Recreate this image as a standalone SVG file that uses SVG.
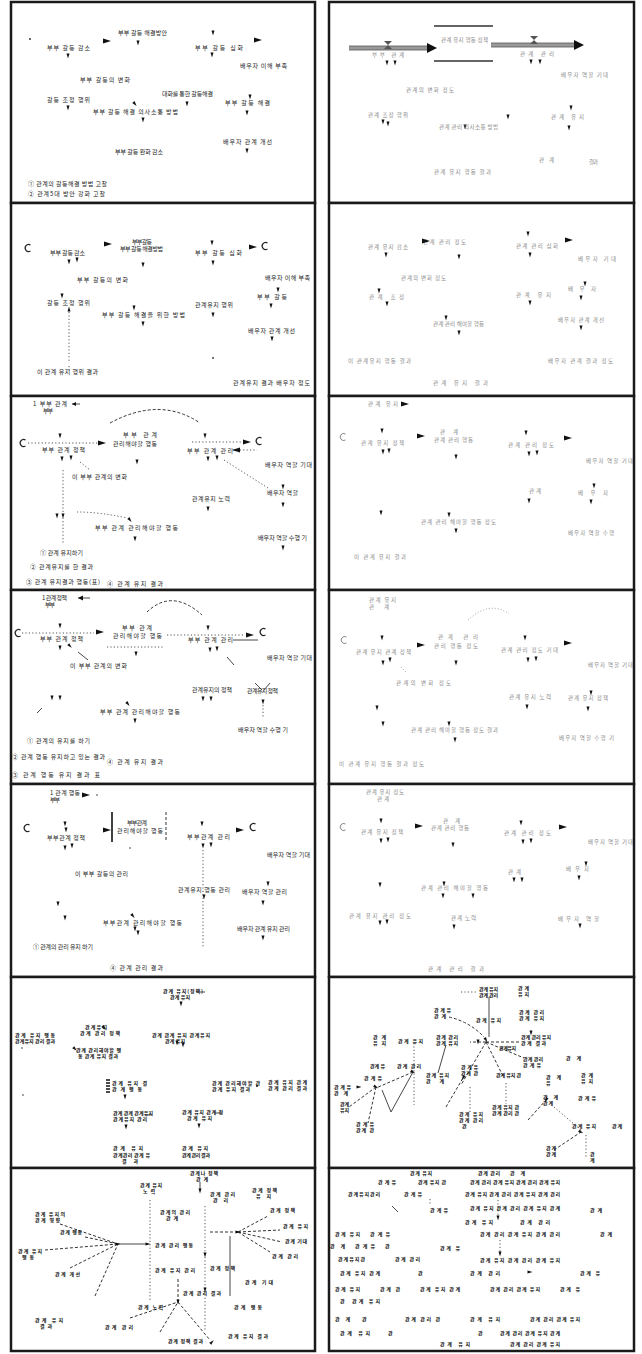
<svg xmlns="http://www.w3.org/2000/svg" width="642" height="1354" viewBox="0 0 642 1354">
<defs>
<style>
.t{font-family:"Noto Sans CJK KR","Noto Sans",sans-serif;font-size:6px;fill:#222}
.u{font-family:"Noto Sans CJK KR","Noto Sans",sans-serif;font-size:5.5px;fill:#8a8a8a}
.k{font-family:"Noto Sans CJK KR","Noto Sans",sans-serif;font-size:5px;fill:#111;font-weight:bold}
.frame{fill:#fff;stroke:#1a1a1a;stroke-width:2.5}
.dot{fill:none;stroke:#444;stroke-width:0.9;stroke-dasharray:1.2 2.2}
.dash{fill:none;stroke:#333;stroke-width:1;stroke-dasharray:3 2}
.ln{fill:none;stroke:#333;stroke-width:0.9}
.fl{fill:none;stroke:#888;stroke-width:0.8;stroke-dasharray:1 2}
.pipe{fill:none;stroke:#999;stroke-width:4}
.pipe2{fill:none;stroke:#555;stroke-width:0.8}
.stk{fill:none;stroke:#333;stroke-width:1.4}
</style>
<path id="ad" d="M-1.5,-2.5H1.5L0,2.5Z" fill="#111"/>
<path id="ar" d="M-4,-2.5L4,0L-4,2.5Z" fill="#111"/>
<path id="cl" d="M2.5,-3A3.5,3.5 0 1 0 2.5,3" fill="none" stroke="#222" stroke-width="1.2"/>
<path id="cg" d="M2.5,-3A3.5,3.5 0 1 0 2.5,3" fill="none" stroke="#888" stroke-width="1"/>
</defs>
<rect width="642" height="1354" fill="#fff"/>

<!-- panel frames -->
<g id="frames">
<rect class="frame" x="11" y="2" width="304" height="201"/>
<rect class="frame" x="11" y="203" width="304" height="193"/>
<rect class="frame" x="11" y="396" width="304" height="194"/>
<rect class="frame" x="11" y="590" width="304" height="194"/>
<rect class="frame" x="11" y="784" width="304" height="193"/>
<rect class="frame" x="11" y="977" width="304" height="191"/>
<rect class="frame" x="11" y="1168" width="304" height="183"/>
<rect class="frame" x="329" y="2" width="305" height="201"/>
<rect class="frame" x="329" y="203" width="305" height="193"/>
<rect class="frame" x="329" y="396" width="305" height="194"/>
<rect class="frame" x="329" y="590" width="305" height="194"/>
<rect class="frame" x="329" y="784" width="305" height="193"/>
<rect class="frame" x="329" y="977" width="305" height="191"/>
<rect class="frame" x="329" y="1168" width="305" height="183"/>
</g>

<!-- row 1 left -->
<g id="p1l">
<circle cx="30" cy="39" r="0.9" fill="#222"/>
<text class="t" x="47" y="50" textLength="43">부부 갈등 감소</text>
<text class="t" x="118" y="35" textLength="49">부부 갈등 해결방안</text>
<text class="t" x="195" y="50" textLength="48">부부 갈등 심화</text>
<text class="t" x="240" y="68" textLength="47">배우자 이해 부족</text>
<text class="t" x="80" y="82" textLength="50">부부 갈등의 변화</text>
<text class="t" x="47" y="102" textLength="43">갈등 조정 행위</text>
<text class="t" x="162" y="96" textLength="51">대화를 통한 갈등해결</text>
<text class="t" x="225" y="105" textLength="45">부부 갈등 해결</text>
<text class="t" x="93" y="114" textLength="85">부부 갈등 해결 의사소통 방법</text>
<text class="t" x="223" y="144" textLength="49">배우자 관계 개선</text>
<text class="t" x="115" y="154" textLength="48">부부 갈등 완화 감소</text>
<text class="t" x="28" y="186" textLength="79">① 관계의 갈등해결 방법 고찰</text>
<text class="t" x="28" y="196" textLength="77">② 관계5대 방안 강화 고찰</text>
<g id="p1l-links">
<use href="#ad" x="68" y="56"/><use href="#ad" x="138" y="43"/><use href="#ad" x="213" y="33"/>
<use href="#ar" x="258" y="40"/><use href="#ad" x="212" y="55"/><use href="#ad" x="68" y="108"/>
<use href="#ad" x="187" y="104"/><use href="#ad" x="250" y="97"/><use href="#ad" x="247" y="113"/>
<use href="#ad" transform="translate(135,104) rotate(-40)"/><use href="#ad" x="143" y="120"/><use href="#ad" x="247" y="151"/>
<use href="#ar" x="107" y="41"/>
</g>
</g>

<!-- row 1 right -->
<g id="p1r">
<g id="p1r-links">
<path class="pipe" d="M349,48H428"/><path class="pipe2" d="M349,46H428M349,50H428"/>
<path d="M427,43L437,48L427,53Z" fill="#111"/>
<path class="stk" d="M434,26H493M434,61H493"/>
<path class="pipe" d="M491,45H575"/><path class="pipe2" d="M491,43H575M491,47H575"/>
<path d="M574,40L584,45L574,50Z" fill="#111"/>
<path d="M384,41L392,41L384,49L392,49Z" fill="#555"/>
<path d="M530,36L538,36L530,44L538,44Z" fill="#555"/>
<use href="#ad" x="387" y="63"/><use href="#ad" x="395" y="63"/><use href="#ad" x="531" y="62"/><use href="#ad" x="540" y="62"/>
<use href="#ad" x="383" y="122"/><use href="#ad" x="388" y="124"/><use href="#ad" x="508" y="117"/><use href="#ad" x="571" y="108"/><use href="#ad" x="569" y="128"/>
<use href="#ad" x="465" y="127"/>
</g>
<text class="u" x="441" y="42" textLength="47">관계 유지 행동 정책</text>
<text class="u" x="372" y="57" textLength="32">부부 관계</text>
<text class="u" x="520" y="56" textLength="34">관계 관리</text>
<text class="u" x="561" y="77" textLength="47">배우자 역할 기대</text>
<text class="u" x="406" y="92" textLength="48">관계의 변화 정도</text>
<text class="u" x="368" y="117" textLength="40">관계 조정 행위</text>
<text class="u" x="439" y="129" textLength="59">관계 관리 의사소통 방법</text>
<text class="u" x="551" y="119" textLength="33">관계 유지</text>
<text class="u" x="539" y="162" textLength="15">관계</text>
<text class="u" x="589" y="164" textLength="9">결과</text>
<text class="u" x="434" y="174" textLength="57">관계 유지 행동 결과</text>
</g>

<!-- row 2 left -->
<g id="p2l">
<use href="#cl" x="28" y="248"/>
<text class="t" x="50" y="255" textLength="35">부부 갈등 감소</text>
<text class="t" x="132" y="244"><tspan textLength="20">부부 갈등</tspan><tspan x="120" dy="7" textLength="43">부부 갈등 해결방법</tspan></text>
<text class="t" x="195" y="255" textLength="47">부부 갈등 심화</text>
<text class="t" x="77" y="282" textLength="51">부부 갈등의 변화</text>
<text class="t" x="265" y="280" textLength="45">배우자 이해 부족</text>
<text class="t" x="257" y="299" textLength="30">부부 갈등</text>
<text class="t" x="47" y="305" textLength="43">갈등 조정 행위</text>
<text class="t" x="102" y="317" textLength="83">부부 갈등 해결을 위한 방법</text>
<text class="t" x="195" y="307" textLength="38">관계유지 행위</text>
<text class="t" x="248" y="333" textLength="47">배우자 관계 개선</text>
<text class="t" x="37" y="374" textLength="61">이 관계 유지 행위 결과</text>
<text class="t" x="233" y="385" textLength="77">관계유지 결과 배우자 정도</text>
<g id="p2l-links">
<use href="#ad" x="69" y="262"/><use href="#ad" x="77" y="260"/><use href="#ar" x="108" y="244"/><use href="#ad" x="143" y="265"/>
<use href="#ad" x="212" y="243"/><use href="#ad" x="213" y="263"/><use href="#ar" x="253" y="247"/>
<use href="#cl" x="265" y="246"/>
<use href="#ad" x="278" y="290"/><use href="#ad" x="271" y="306"/><use href="#ad" x="62" y="296"/>
<use href="#ad" transform="translate(69,309) rotate(180)"/>
<path class="dot" d="M69,312V362"/><path class="dot" d="M69,366V372"/>
<use href="#ad" x="134" y="308"/><use href="#ad" x="143" y="324"/><use href="#ad" x="213" y="315"/><use href="#ad" x="272" y="339"/>
<circle cx="213" cy="358" r="0.9" fill="#333"/>
</g>
</g>

<!-- row 2 right -->
<g id="p2r">
<text class="u" x="368" y="249" textLength="40">관계 유지 감소</text>
<text class="u" x="423" y="244" textLength="43">관계 관리 정도</text>
<text class="u" x="516" y="248" textLength="42">관계 관리 심화</text>
<text class="u" x="578" y="261" textLength="38">배우자 기대</text>
<text class="u" x="401" y="280" textLength="45">관계의 변화 정도</text>
<text class="u" x="369" y="299" textLength="35">관계 조정</text>
<text class="u" x="516" y="297" textLength="35">관계 유지</text>
<text class="u" x="568" y="291" textLength="28">배우자</text>
<text class="u" x="433" y="326" textLength="51">관계 관리 해야할 행동</text>
<text class="u" x="558" y="322" textLength="46">배우자 관계 개선</text>
<text class="u" x="348" y="363" textLength="63">이 관계유지 행동 결과</text>
<text class="u" x="548" y="363" textLength="65">배우자 관계 결과 정도</text>
<text class="u" x="433" y="385" textLength="55">관계 유지 결과</text>
<g id="p2r-links">
<use href="#ad" x="386" y="255"/><use href="#ar" x="426" y="241"/><use href="#ad" x="459" y="257"/><use href="#ad" x="528" y="234"/>
<use href="#ad" x="530" y="255"/><use href="#ar" x="569" y="240"/><use href="#ad" x="379" y="291"/><use href="#ad" x="387" y="304"/>
<use href="#ad" x="530" y="303"/><use href="#ad" x="585" y="284"/><use href="#ad" x="581" y="298"/><use href="#ad" x="446" y="318"/>
<use href="#ad" x="459" y="333"/><use href="#ad" x="581" y="328"/>
</g>
</g>

<!-- row 3 left -->
<g id="p3l">
<text class="t" x="33" y="406"><tspan textLength="34">1 부부 관계</tspan><tspan x="43" dy="6.5" textLength="10">부부</tspan></text>
<text class="t" x="42" y="452" textLength="43">부부 관계 정책</text>
<text class="t" x="123" y="437"><tspan textLength="34">부부 관계</tspan><tspan x="113" dy="9" textLength="44">관리해야할 행동</tspan></text>
<text class="t" x="187" y="453" textLength="46">부부 관계 관리</text>
<text class="t" x="265" y="467" textLength="47">배우자 역할 기대</text>
<text class="t" x="267" y="495" textLength="31">배우자 역할</text>
<text class="t" x="72" y="479" textLength="55">이 부부 관계의 변화</text>
<text class="t" x="192" y="501" textLength="38">관계유지 노력</text>
<text class="t" x="95" y="530" textLength="83">부부 관계 관리해야할 행동</text>
<text class="t" x="258" y="540" textLength="49">배우자 역할 수행 기</text>
<text class="t" x="40" y="555" textLength="43">① 관계 유지하기</text>
<text class="t" x="30" y="569" textLength="63">② 관계유지를 한 결과</text>
<text class="t" x="26" y="584" textLength="74">③ 관계 유지결과 행동(표)</text>
<text class="t" x="107" y="586" textLength="56">④ 관계 유지 결과</text>
<g id="p3l-links">
<path class="ln" d="M72,404H80"/><path d="M72,404L76,402V406Z" fill="#111"/>
<path class="dash" d="M110,423Q160,396 200,423"/>
<use href="#cl" x="23" y="443"/>
<path class="dot" d="M28,443H98"/><use href="#ar" x="102" y="443"/>
<use href="#ad" x="60" y="436"/><use href="#ad" x="62" y="459"/><use href="#ad" x="71" y="458"/><use href="#ad" x="137" y="462"/>
<path class="dot" d="M192,442H243"/><use href="#ar" x="247" y="442"/><use href="#cl" x="259" y="441"/>
<use href="#ad" x="205" y="436"/><path class="dot" d="M233,450H257"/><use href="#ar" transform="translate(236,450) rotate(180)"/>
<use href="#ad" x="208" y="459"/><use href="#ad" x="217" y="458"/>
<path class="dot" d="M224,460L268,488"/><use href="#ad" x="283" y="487"/><use href="#ad" x="283" y="505"/>
<path class="dot" d="M63,470V544"/>
<path class="dot" d="M80,462L90,470"/>
<use href="#ad" x="208" y="509"/><use href="#ad" x="57" y="516"/><use href="#ad" x="63" y="516"/>
<path class="dot" d="M77,512Q100,512 127,518"/>
<use href="#ad" transform="translate(130,520) rotate(-40)"/><use href="#ad" x="135" y="539"/><use href="#ad" x="283" y="548"/>
</g>
</g>

<!-- row 3 right -->
<g id="p3r">
<text class="u" x="368" y="406" textLength="30">관계 유지</text>
<use href="#cg" x="343" y="437"/>
<text class="u" x="361" y="445" textLength="43">관계 유지 정책</text>
<text class="u" x="440" y="434"><tspan textLength="18">관계</tspan><tspan x="434" dy="8" textLength="39">관계 관리 행동</tspan></text>
<text class="u" x="508" y="447" textLength="46">관계 관리 정도</text>
<text class="u" x="586" y="463" textLength="47">배우자 역할 기대</text>
<text class="u" x="529" y="493" textLength="12">관계</text>
<text class="u" x="578" y="495" textLength="30">배우자</text>
<text class="u" x="421" y="524" textLength="75">관계 관리 해야할 행동 정도</text>
<text class="u" x="568" y="535" textLength="46">배우자 역할 수행</text>
<text class="u" x="354" y="559" textLength="52">이 관계 유지 결과</text>
<g id="p3r-links">
<use href="#ar" x="405" y="404"/><use href="#ad" x="382" y="431"/><use href="#ad" x="383" y="452"/><use href="#ad" x="389" y="451"/>
<use href="#ar" x="421" y="436"/><use href="#ad" x="456" y="457"/><use href="#ad" x="526" y="433"/><use href="#ad" x="529" y="454"/>
<use href="#ad" x="537" y="453"/><use href="#ar" x="568" y="438"/><use href="#ad" x="529" y="501"/><use href="#ad" x="594" y="486"/>
<use href="#ad" x="591" y="502"/><use href="#ad" x="381" y="513"/><use href="#ad" x="449" y="515"/><use href="#ad" x="456" y="531"/>
</g>
</g>

<!-- row 4 left -->
<g id="p4l">
<text class="t" x="42" y="600"><tspan textLength="25">1 관계 정책</tspan><tspan x="45" dy="7" textLength="10">부부</tspan></text>
<text class="t" x="40" y="641" textLength="43">부부 관계 정책</text>
<text class="t" x="122" y="630"><tspan textLength="30">부부 관계</tspan><tspan x="113" dy="8" textLength="49">관리해야할 행동</tspan></text>
<text class="t" x="188" y="642" textLength="45">부부 관계 관리</text>
<text class="t" x="267" y="660" textLength="45">배우자 역할 기대</text>
<text class="t" x="70" y="668" textLength="57">이 부부 관계의 변화</text>
<text class="t" x="192" y="692" textLength="40">관계유지의 정책</text>
<text class="t" x="247" y="693" textLength="31">관계유지 정책</text>
<text class="t" x="100" y="714" textLength="80">부부 관계 관리해야할 행동</text>
<text class="t" x="238" y="732" textLength="50">배우자 역할 수행 기</text>
<text class="t" x="27" y="743" textLength="63">① 관계의 유지를 하기</text>
<text class="t" x="12" y="759" textLength="93">② 관계 행동 유지하고 있는 결과</text>
<text class="t" x="107" y="764" textLength="56">④ 관계 유지 결과</text>
<text class="t" x="12" y="777" textLength="88">③ 관계 행동 유지 결과 표</text>
<g id="p4l-links">
<path class="ln" d="M78,598H90"/><path d="M78,598L83,595.5V600.5Z" fill="#111"/>
<path class="dash" d="M147,612Q172,588 202,615"/>
<use href="#cl" x="18" y="633"/><path class="dot" d="M22,633H94"/><use href="#ar" x="100" y="632"/>
<use href="#ad" x="60" y="626"/><use href="#ad" x="60" y="648"/><use href="#ad" transform="translate(70,646) rotate(-45)"/>
<path class="dot" d="M107,647H163"/><use href="#ad" x="136" y="654"/>
<path class="dot" d="M167,635H243"/>
<use href="#ad" x="208" y="628"/><path class="ln" d="M233,640H258"/><use href="#ar" x="250" y="635"/><use href="#cl" x="263" y="632"/>
<use href="#ad" x="210" y="650"/><use href="#ad" x="217" y="649"/>
<path class="ln" d="M227,657L234,665"/><path class="ln" d="M78,652L88,660"/>
<use href="#ad" x="203" y="699"/><use href="#ad" x="211" y="699"/>
<path class="ln" d="M255,683L262,690M270,683L264,690"/><use href="#ad" x="263" y="702"/><path class="dot" d="M263,705V718"/>
<use href="#ad" x="52" y="698"/><use href="#ad" x="60" y="698"/><path class="ln" d="M37,713L42,708"/>
<use href="#ad" transform="translate(128,704) rotate(-40)"/><use href="#ad" x="135" y="721"/>
</g>
</g>

<!-- row 4 right -->
<g id="p4r">
<text class="u" x="369" y="602"><tspan textLength="27">관계 유지</tspan><tspan x="369" dy="7" textLength="20">관계</tspan></text>
<use href="#cg" x="344" y="640"/>
<text class="u" x="356" y="654" textLength="55">관계 유지 관계 정책</text>
<text class="u" x="438" y="639"><tspan textLength="40">관계 관리</tspan><tspan x="434" dy="9" textLength="44">관리 행동 정도</tspan></text>
<text class="u" x="501" y="652" textLength="57">관계 관리 정도 기대</text>
<text class="u" x="588" y="667" textLength="45">배우자 역할 기대</text>
<text class="u" x="396" y="685" textLength="55">관계의 변화 정도</text>
<text class="u" x="509" y="699" textLength="42">관계 유지 노력</text>
<text class="u" x="568" y="700" textLength="40">관계 유지 정책</text>
<text class="u" x="411" y="732" textLength="87">관계 관리 해야할 행동 정도 결과</text>
<text class="u" x="559" y="740" textLength="55">배우자 역할 수행 기</text>
<text class="u" x="339" y="766" textLength="85">이 관계 유지 행동 결과 정도</text>
<g id="p4r-links">
<path class="fl" d="M468,620Q490,600 509,614"/>
<use href="#ad" x="382" y="638"/><use href="#ad" x="383" y="663"/><use href="#ad" x="390" y="660"/>
<path class="fl" d="M401,667L406,672"/>
<use href="#ar" x="421" y="645"/><use href="#ad" x="456" y="663"/><use href="#ad" x="525" y="638"/>
<use href="#ad" x="528" y="660"/><use href="#ad" x="536" y="659"/><use href="#ar" x="568" y="643"/>
<use href="#ad" x="527" y="707"/><use href="#ad" x="591" y="693"/><use href="#ad" x="588" y="709"/>
<use href="#ad" x="377" y="708"/><use href="#ad" x="383" y="724"/><use href="#ad" x="449" y="724"/><use href="#ad" x="455" y="740"/>
</g>
</g>

<!-- row 5 left -->
<g id="p5l">
<text class="t" x="50" y="795"><tspan textLength="30">1 관계 행동</tspan><tspan x="50" dy="6.5" textLength="10">부부</tspan></text>
<use href="#cl" x="27" y="828"/>
<text class="t" x="47" y="840" textLength="38">부부관계 정책</text>
<text class="t" x="127" y="825"><tspan textLength="20">부부관계</tspan><tspan x="117" dy="8" textLength="46">관리해야할 행동</tspan></text>
<text class="t" x="187" y="839" textLength="43">부부관계 관리</text>
<text class="t" x="267" y="857" textLength="43">배우자 역할 기대</text>
<text class="t" x="75" y="876" textLength="53">이 부부 갈등의 관리</text>
<text class="t" x="178" y="892" textLength="52">관계유지 행동 관리</text>
<text class="t" x="242" y="894" textLength="45">배우자 역할 관리</text>
<text class="t" x="103" y="925" textLength="79">부부관계 관리해야할 행동</text>
<text class="t" x="237" y="931" textLength="53">배우자 관계 유지 관리</text>
<text class="t" x="33" y="949" textLength="60">① 관계의 관리 유지 하기</text>
<text class="t" x="110" y="970" textLength="53">④ 관계 관리 결과</text>
<g id="p5l-links">
<use href="#ar" x="86" y="795"/><circle cx="97" cy="795" r="0.8" fill="#333"/>
<use href="#ad" x="65" y="824"/><use href="#ad" x="66" y="830"/><use href="#ad" x="65" y="848"/><use href="#ad" x="72" y="846"/>
<use href="#ar" x="107" y="830"/>
<path d="M112,812V842" stroke="#111" stroke-width="1.6"/>
<path class="dash" d="M166,812V842"/><circle cx="130" cy="848" r="0.8" fill="#333"/>
<use href="#ad" x="202" y="824"/><use href="#ad" x="203" y="846"/><use href="#ad" x="211" y="845"/>
<path class="dot" d="M203,850V947"/>
<use href="#ar" x="240" y="830"/><use href="#cl" x="253" y="827"/>
<use href="#ad" x="204" y="897"/><use href="#ad" x="268" y="884"/><use href="#ad" x="263" y="903"/>
<use href="#ad" x="58" y="904"/><use href="#ad" x="65" y="918"/>
<use href="#ad" transform="translate(133,916) rotate(-40)"/><use href="#ad" x="138" y="933"/><use href="#ad" x="135" y="929"/>
<use href="#ad" x="263" y="938"/>
</g>
</g>

<!-- row 5 right -->
<g id="p5r">
<text class="u" x="366" y="794"><tspan textLength="38">관계 유지 정도</tspan><tspan x="377" dy="6.5" textLength="12">관계</tspan></text>
<use href="#cg" x="343" y="827"/>
<text class="u" x="361" y="834" textLength="42">관계 유지 정책</text>
<text class="u" x="443" y="823"><tspan textLength="17">관계</tspan><tspan x="431" dy="7" textLength="38">관계 관리 행동</tspan></text>
<text class="u" x="504" y="835" textLength="47">관계 관리 정도</text>
<text class="u" x="588" y="844" textLength="45">배우자 역할 기대</text>
<text class="u" x="508" y="874" textLength="13">관계</text>
<text class="u" x="566" y="871" textLength="23">배우자</text>
<text class="u" x="421" y="890" textLength="67">관계 관리 해야할 행동</text>
<text class="u" x="349" y="918" textLength="62">관계 유지 관리 정도</text>
<text class="u" x="451" y="920" textLength="25">관계 노력</text>
<text class="u" x="558" y="921" textLength="41">배우자 역할</text>
<text class="u" x="428" y="971" textLength="56">관계 관리 결과</text>
<g id="p5r-links">
<use href="#ad" x="381" y="821"/><use href="#ad" x="381" y="841"/><use href="#ad" x="388" y="840"/><use href="#ar" x="419" y="826"/>
<use href="#ad" x="453" y="845"/><use href="#ad" x="521" y="823"/><use href="#ad" x="523" y="842"/><use href="#ad" x="531" y="841"/>
<use href="#ar" x="563" y="827"/><use href="#ad" x="514" y="880"/><use href="#ad" x="522" y="880"/><use href="#ad" x="586" y="864"/>
<use href="#ad" x="579" y="878"/><use href="#ad" x="380" y="885"/><use href="#ad" x="444" y="884"/><use href="#ad" x="443" y="896"/>
<use href="#ad" x="473" y="896"/><use href="#ad" x="380" y="923"/><use href="#ad" x="387" y="922"/><use href="#ad" x="454" y="927"/><use href="#ad" x="580" y="926"/>
</g>
</g>

<!-- row 6 left -->
<g id="p6l">
<text class="k" x="163" y="993"><tspan textLength="40">관계 유지(정책)</tspan><tspan x="170" dy="6" textLength="20">관계 유지</tspan></text>
<text class="k" x="15" y="1037"><tspan textLength="40">관계 유지 행동</tspan><tspan x="15" dy="6" textLength="40">관계유지 관리 결과</tspan></text>
<text class="k" x="85" y="1029"><tspan textLength="22">관계유지</tspan><tspan x="80" dy="6" textLength="40">관계 관리 정책</tspan></text>
<text class="k" x="76" y="1052"><tspan textLength="45">관계 관리해야할 행</tspan><tspan x="78" dy="6" textLength="40">동 관계 유지 결과</tspan></text>
<text class="k" x="152" y="1037"><tspan textLength="58">관계 관계 유지 관계유지</tspan><tspan x="165" dy="6" textLength="20">관계 유지</tspan></text>
<text class="k" x="112" y="1085"><tspan textLength="35">관계 유지 결</tspan><tspan x="112" dy="6" textLength="30">관계행동</tspan></text>
<text class="k" x="212" y="1085"><tspan textLength="48">관계 관리해야할 관</tspan><tspan x="212" dy="6" textLength="38">관계 유지 결과</tspan></text>
<text class="k" x="268" y="1084"><tspan textLength="39">관계 유지 관계</tspan><tspan x="268" dy="6" textLength="39">관계 관리 결과</tspan></text>
<text class="k" x="113" y="1115"><tspan textLength="40">관계 관계 관계유지</tspan><tspan x="113" dy="6" textLength="34">관계유지 관리</tspan></text>
<text class="k" x="182" y="1114"><tspan textLength="41">관계 유지 관계 정</tspan><tspan x="187" dy="6" textLength="25">관계 유지</tspan></text>
<text class="k" x="113" y="1150"><tspan textLength="30">관계 유지</tspan><tspan x="113" dy="6.5" textLength="37">관계관리 관계 유</tspan><tspan x="122" dy="6" textLength="16">결과</tspan></text>
<text class="k" x="182" y="1150"><tspan textLength="26">관계 유지</tspan><tspan x="182" dy="6.5" textLength="28">관계 관리 결과</tspan></text>
<g id="p6l-links">
<path class="ln" d="M196,992H205"/><use href="#ad" x="181" y="1004"/>
<circle cx="22" cy="1048" r="0.8" fill="#333"/><circle cx="23" cy="1095" r="0.8" fill="#333"/>
<use href="#ad" transform="translate(104,1028) rotate(-40)"/><use href="#ad" transform="translate(75,1049) rotate(-45)"/>
<use href="#ad" x="183" y="1045"/><use href="#ad" x="177" y="1043"/>
<path d="M106,1080H110M106,1083H110M106,1086H110M106,1089H110M106,1092H110" stroke="#111" stroke-width="1.4"/>
<use href="#ad" x="125" y="1097"/><circle cx="257" cy="1086" r="1" fill="#111"/>
<use href="#ad" x="126" y="1127"/><use href="#ad" x="199" y="1126"/>
<path class="ln" d="M145,1115H152"/><path class="ln" d="M215,1113H222"/>
</g>
</g>

<!-- row 6 right -->
<g id="p6r">
<g id="p6r-links">
<path class="dot" d="M461,992H478"/>
<path class="ln" d="M489,997V1037"/>
<path class="dash" d="M449,1017Q470,1022 484,1037"/>
<use href="#ad" x="531" y="1033"/>
<path class="dash" d="M486,1042H470"/><path class="dash" d="M486,1042H520"/>
<path class="dash" d="M486,1042L524,1058"/><path class="dash" d="M486,1042L461,1085"/><path class="dash" d="M486,1042L504,1078"/>
<path class="dot" d="M414,1043V1105"/>
<path class="ln" d="M446,1045L438,1073"/>
<path class="dash" d="M413,1072L376,1088"/><path class="ln" d="M382,1090L391,1112L413,1072"/>
<path class="dash" d="M376,1087L349,1107"/><path class="dash" d="M376,1087L368,1123"/>
<path class="dash" d="M446,1107L463,1078"/><path class="dot" d="M470,1087V1113"/>
<path class="dot" d="M506,1083V1104"/>
<path class="dash" d="M528,1120L546,1100"/><path class="dot" d="M554,1107L581,1130"/>
<path class="dash" d="M554,1150L581,1132"/><path class="dot" d="M586,1135V1157"/>
<use href="#ad" transform="translate(486,1040) rotate(-30)"/><use href="#ad" transform="translate(376,1087) rotate(-60)"/>
<use href="#ad" transform="translate(413,1072) rotate(-60)"/><use href="#ad" transform="translate(463,1078) rotate(30)"/>
<use href="#ad" transform="translate(546,1100) rotate(30)"/><use href="#ad" transform="translate(581,1132) rotate(-60)"/>
<use href="#ad" transform="translate(359,1087) rotate(-90)"/><use href="#ad" x="478" y="1042"/>
</g>
<text class="k" x="479" y="991"><tspan textLength="19">관계 유지</tspan><tspan x="479" dy="6" textLength="19">관계 관리</tspan></text>
<text class="k" x="518" y="990"><tspan textLength="11">관계</tspan><tspan x="518" dy="6" textLength="11">유지</tspan></text>
<text class="k" x="434" y="1012"><tspan textLength="17">관계유</tspan><tspan x="434" dy="6" textLength="12">관계</tspan></text>
<text class="k" x="476" y="1022" textLength="25">관계 유지</text>
<text class="k" x="519" y="1014"><tspan textLength="25">관계 관리</tspan><tspan x="519" dy="6" textLength="25">관계 유지</tspan></text>
<text class="k" x="521" y="1039"><tspan textLength="30">관계 관리 유지</tspan><tspan x="521" dy="6" textLength="25">관계 결과</tspan></text>
<text class="k" x="373" y="1039"><tspan textLength="13">관계</tspan><tspan x="373" dy="6" textLength="13">유지</tspan></text>
<text class="k" x="398" y="1043" textLength="25">관계 유지</text>
<text class="k" x="436" y="1039"><tspan textLength="22">관계 관리</tspan><tspan x="436" dy="6" textLength="22">관계 유지</tspan></text>
<text class="k" x="499" y="1050" textLength="17">관계유지</text>
<text class="k" x="523" y="1061"><tspan textLength="20">관계 관리</tspan><tspan x="523" dy="6" textLength="18">관계유</tspan></text>
<text class="k" x="566" y="1060" textLength="15">관계</text>
<text class="k" x="370" y="1068" textLength="15">관계 유</text>
<text class="k" x="397" y="1068" textLength="24">관계 관리</text>
<text class="k" x="426" y="1077"><tspan textLength="23">관계 유지</tspan><tspan x="426" dy="6" textLength="18">관계</tspan></text>
<text class="k" x="461" y="1069"><tspan textLength="17">관계유</tspan><tspan x="461" dy="6" textLength="17">관계 관</tspan></text>
<text class="k" x="496" y="1077" textLength="25">관계 유지 관</text>
<text class="k" x="546" y="1079"><tspan textLength="15">관계</tspan><tspan x="546" dy="6" textLength="5">유</tspan></text>
<text class="k" x="581" y="1077"><tspan textLength="12">관계</tspan><tspan x="581" dy="6" textLength="12">유지</tspan></text>
<text class="k" x="364" y="1080" textLength="18">관계유</text>
<text class="k" x="334" y="1089"><tspan textLength="17">관계유</tspan><tspan x="334" dy="6" textLength="14">관계</tspan></text>
<text class="k" x="340" y="1106"><tspan textLength="9">관계</tspan><tspan x="340" dy="6" textLength="9">유지</tspan></text>
<text class="k" x="356" y="1126"><tspan textLength="18">관계유</tspan><tspan x="356" dy="6" textLength="18">관계 관</tspan></text>
<text class="k" x="459" y="1116"><tspan textLength="24">관계 유지</tspan><tspan x="459" dy="6" textLength="24">관계 관리</tspan><tspan x="462" dy="6" textLength="8">관</tspan></text>
<text class="k" x="492" y="1109"><tspan textLength="27">관계 유지 관</tspan><tspan x="492" dy="6" textLength="27">관계 관리 관</tspan></text>
<text class="k" x="578" y="1100" textLength="18">관계유</text>
<text class="k" x="543" y="1099"><tspan textLength="15">관계</tspan><tspan x="543" dy="6" textLength="10">관계</tspan></text>
<text class="k" x="572" y="1128" textLength="24">관계 유지</text>
<text class="k" x="612" y="1128" textLength="10">관계</text>
<text class="k" x="546" y="1150"><tspan textLength="10">관계</tspan><tspan x="546" dy="6" textLength="10">관계</tspan></text>
<text class="k" x="590" y="1156"><tspan textLength="8">관</tspan><tspan x="590" dy="6" textLength="8">계</tspan></text>
</g>

<!-- row 7 left -->
<g id="p7l">
<g id="p7l-links">
<path class="ln" d="M200,1182V1190"/>
<path class="dash" d="M60,1224L118,1244M85,1237L118,1244M45,1250L118,1244M70,1268L118,1244M95,1296L118,1244"/>
<path class="ln" d="M118,1244H148"/>
<path class="dot" d="M150,1200V1300"/>
<path class="dot" d="M205,1206V1330"/>
<path class="dash" d="M210,1232L238,1232M238,1232L268,1216M238,1232L280,1230M238,1232L282,1242M238,1232L270,1252"/>
<path class="dash" d="M130,1318L178,1302M160,1332L178,1302M178,1302V1278M178,1302L210,1340"/>
<path class="ln" d="M230,1236V1296"/>
<use href="#ad" transform="translate(118,1244) rotate(-90)"/><use href="#ad" transform="translate(148,1244) rotate(-90)"/>
<use href="#ad" transform="translate(238,1232) rotate(-90)"/><use href="#ad" x="178" y="1302"/>
<use href="#ad" transform="translate(212,1342) rotate(-135)"/><use href="#ad" x="200" y="1191"/>
<use href="#ad" x="205" y="1255"/><use href="#ad" x="205" y="1290"/>
</g>
<text class="k" x="190" y="1175"><tspan textLength="28">관계나 정책</tspan><tspan x="196" dy="6" textLength="12">관계</tspan></text>
<text class="k" x="140" y="1187"><tspan textLength="22">관계 유지</tspan><tspan x="143" dy="6" textLength="12">노력</tspan></text>
<text class="k" x="210" y="1196"><tspan textLength="25">관계 관리</tspan><tspan x="213" dy="6" textLength="15">관리</tspan></text>
<text class="k" x="252" y="1192"><tspan textLength="25">관계 정책</tspan><tspan x="256" dy="6" textLength="15">유지</tspan></text>
<text class="k" x="35" y="1216"><tspan textLength="30">관계 유지의</tspan><tspan x="35" dy="6" textLength="25">관계 영향</tspan></text>
<text class="k" x="160" y="1214"><tspan textLength="30">관계의 관리</tspan><tspan x="166" dy="6" textLength="12">관계</tspan></text>
<text class="k" x="270" y="1212" textLength="25">관계 정책</text>
<text class="k" x="283" y="1228" textLength="25">관계 유지</text>
<text class="k" x="60" y="1234" textLength="22">관계 행동</text>
<text class="k" x="18" y="1253"><tspan textLength="24">관계 유지</tspan><tspan x="22" dy="6" textLength="12">행동</tspan></text>
<text class="k" x="155" y="1247" textLength="38">관계 관리 행동</text>
<text class="k" x="285" y="1243" textLength="22">관계 기대</text>
<text class="k" x="272" y="1258" textLength="26">관계 관리</text>
<text class="k" x="55" y="1276" textLength="25">관계 개선</text>
<text class="k" x="155" y="1272" textLength="40">관계 유지 관리</text>
<text class="k" x="210" y="1270" textLength="25">관계 정책</text>
<text class="k" x="245" y="1284" textLength="28">관계 기대</text>
<text class="k" x="183" y="1295" textLength="38">관계 관리 결과</text>
<text class="k" x="138" y="1309" textLength="25">관계 노력</text>
<text class="k" x="234" y="1309" textLength="28">관계 행동</text>
<text class="k" x="35" y="1322"><tspan textLength="28">관계 유지</tspan><tspan x="40" dy="6" textLength="12">결과</tspan></text>
<text class="k" x="105" y="1329" textLength="28">관계 관리</text>
<text class="k" x="168" y="1343" textLength="35">관계 정책 결과</text>
<text class="k" x="228" y="1338" textLength="40">관계 유지 결과</text>
</g>

<!-- row 7 right -->
<g id="p7r">
<g id="p7r-links">
<path class="dot" d="M498,1200V1216"/><use href="#ad" x="498" y="1218"/>
<path class="dot" d="M500,1240V1252"/><use href="#ad" x="500" y="1254"/>
<path class="ln" d="M398,1212L392,1206"/><use href="#ad" transform="translate(530,1272) rotate(-90)"/>
<path class="dot" d="M430,1199V1205"/>
</g>
<text class="k" x="410" y="1175" textLength="22">관계 유지</text>
<text class="k" x="478" y="1175" textLength="22">관계 관리</text>
<text class="k" x="510" y="1175" textLength="15">관계</text>
<text class="k" x="378" y="1184" textLength="18">관계유</text>
<text class="k" x="418" y="1184" textLength="28">관계 유지 관</text>
<text class="k" x="470" y="1184" textLength="90">관계 관리 관계 유지 관계 관리 관계 유지</text>
<text class="k" x="348" y="1196" textLength="32">관계유지관리</text>
<text class="k" x="404" y="1196" textLength="18">관계유</text>
<text class="k" x="465" y="1196" textLength="95">관계 유지 관계 관리 관계 유지 관계 관리</text>
<text class="k" x="430" y="1212" textLength="18">관계유</text>
<text class="k" x="470" y="1210" textLength="90">관계 유지 관계 관리 관계 유지 관계</text>
<text class="k" x="590" y="1212" textLength="12">관계</text>
<text class="k" x="465" y="1224" textLength="28">관계 유지</text>
<text class="k" x="520" y="1224" textLength="30">관계 관리</text>
<text class="k" x="335" y="1236" textLength="25">관계 유지</text>
<text class="k" x="370" y="1236" textLength="20">관계유</text>
<text class="k" x="480" y="1236" textLength="80">관계 관리 관계 유지 관계 관리</text>
<text class="k" x="600" y="1236" textLength="12">관계</text>
<text class="k" x="330" y="1248" textLength="15">관계</text>
<text class="k" x="355" y="1248" textLength="20">관계유</text>
<text class="k" x="385" y="1248" textLength="10">관</text>
<text class="k" x="440" y="1250" textLength="20">관계 유</text>
<text class="k" x="338" y="1261" textLength="27">관계유지관</text>
<text class="k" x="395" y="1261" textLength="25">관계 관리</text>
<text class="k" x="480" y="1262" textLength="80">관계 유지 관계 관리 관계 유지</text>
<text class="k" x="340" y="1275" textLength="40">관계 유지 관계</text>
<text class="k" x="418" y="1275" textLength="10">관</text>
<text class="k" x="470" y="1275" textLength="30">관계 관리</text>
<text class="k" x="580" y="1275" textLength="20">관계 유</text>
<text class="k" x="335" y="1291" textLength="25">관계 유지</text>
<text class="k" x="380" y="1291" textLength="20">관계 관</text>
<text class="k" x="420" y="1291" textLength="40">관계 유지 관계</text>
<text class="k" x="490" y="1291" textLength="50">관계 관리 관계 유지</text>
<text class="k" x="560" y="1291" textLength="20">관계 유</text>
<text class="k" x="340" y="1303" textLength="8">관</text>
<text class="k" x="352" y="1303" textLength="28">관계 유지</text>
<text class="k" x="335" y="1321" textLength="15">관계</text>
<text class="k" x="362" y="1321" textLength="8">관</text>
<text class="k" x="405" y="1321" textLength="35">관계 관리 관</text>
<text class="k" x="470" y="1321" textLength="30">관계 유지</text>
<text class="k" x="530" y="1321" textLength="50">관계 관리 관계 유지</text>
<text class="k" x="340" y="1335" textLength="30">관계 유지</text>
<text class="k" x="388" y="1335" textLength="8">관</text>
<text class="k" x="478" y="1335" textLength="10">관</text>
<text class="k" x="500" y="1335" textLength="60">관계 관리 관계 유지 관계</text>
<text class="k" x="440" y="1346" textLength="30">관계 유지</text>
<text class="k" x="510" y="1346" textLength="50">관계 관리 관계 유지</text>
</g>
</svg>
